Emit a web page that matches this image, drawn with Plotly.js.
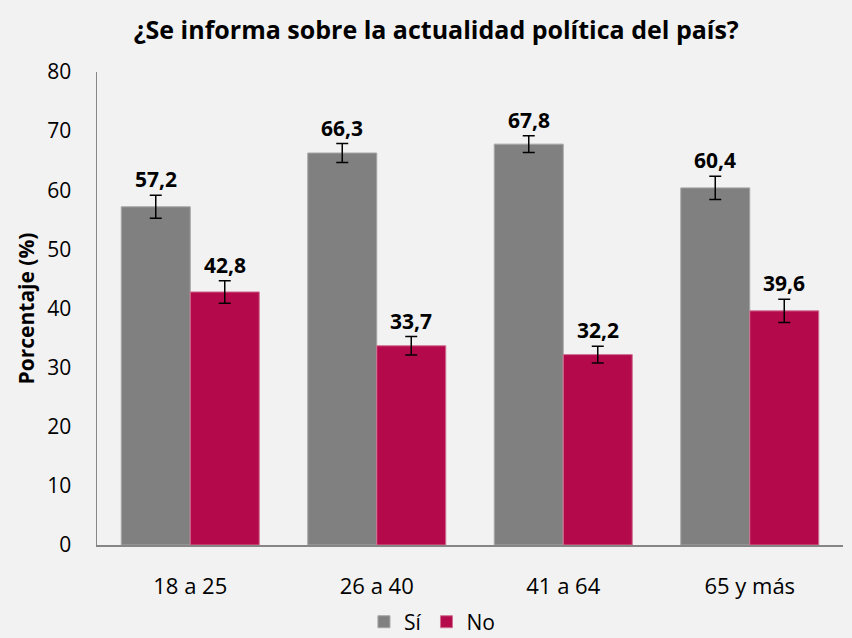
<!DOCTYPE html>
<html>
<head>
<meta charset="utf-8">
<script src="https://cdn.plot.ly/plotly-3.0.1.min.js"></script>
<style>html,body{margin:0;padding:0;background:#F2F2F2;}#chart{width:852px;height:638px;}</style>
</head>
<body>
<div id="chart"></div>
<script>
const categories = ["18 a 25", "26 a 40", "41 a 64", "65 y más"];
const siValues = [57.2, 66.3, 67.8, 60.4];
const noValues = [42.8, 33.7, 32.2, 39.6];
const siErrors = [1.95, 1.6, 1.4, 1.95];
const noErrors = [1.9, 1.55, 1.4, 1.95];
const yTicks = [0, 10, 20, 30, 40, 50, 60, 70, 80];

const fmt = v => v.toFixed(1).replace('.', ',');
const labelFont = {family: 'Open Sans', size: 21, color: '#000', weight: 'bold'};

const traces = [
  {type: 'bar', name: 'Sí', x: categories, y: siValues,
   marker: {color: '#808080', line: {color: '#A6A6A6', width: 1}},
   error_y: {type: 'data', array: siErrors, visible: true, color: '#000', thickness: 1.5, width: 6}},
  {type: 'bar', name: 'No', x: categories, y: noValues,
   marker: {color: '#B40A4C', line: {color: '#D07090', width: 1}},
   error_y: {type: 'data', array: noErrors, visible: true, color: '#000', thickness: 1.5, width: 6}}
];

const annotations = [];
categories.forEach((c, i) => {
  annotations.push({x: c, y: siValues[i] + siErrors[i], xref: 'x', yref: 'y', text: fmt(siValues[i]),
    showarrow: false, xshift: -34.5, yshift: 0, yanchor: 'bottom', font: labelFont});
  annotations.push({x: c, y: noValues[i] + noErrors[i], xref: 'x', yref: 'y', text: fmt(noValues[i]),
    showarrow: false, xshift: 34.5, yshift: 0, yanchor: 'bottom', font: labelFont});
});

const layout = {
  width: 852, height: 638,
  paper_bgcolor: '#F2F2F2', plot_bgcolor: '#F2F2F2',
  margin: {l: 97, r: 9, t: 72, b: 93, autoexpand: false},
  font: {family: 'Open Sans', color: '#000'},
  title: {text: '<b>¿Se informa sobre la actualidad política del país?</b>', x: 0.512, xanchor: 'center', y: 0.953, yanchor: 'middle',
          font: {family: 'Open Sans', size: 25, color: '#000'}},
  barmode: 'group', bargap: 0.26, bargroupgap: 0,
  xaxis: {type: 'category', showline: true, linecolor: '#868686', linewidth: 1.5, ticks: '', showgrid: false, automargin: false,
          tickfont: {size: 22, family: 'Open Sans'}, ticklabelstandoff: 21},
  yaxis: {range: [0, 80], tickvals: yTicks, showline: true, linecolor: '#868686', linewidth: 1.5, ticks: '', showgrid: false,
          automargin: false, zeroline: false, tickfont: {size: 21, family: 'Open Sans'}, ticklabelstandoff: 20,
          title: {text: '<b>Porcentaje (%)</b>', font: {size: 21, family: 'Open Sans'}, standoff: 7}},
  legend: {orientation: 'h', x: 0.449, xanchor: 'center', y: -0.163, yanchor: 'middle',
           font: {size: 21, family: 'Open Sans'}, bgcolor: 'rgba(0,0,0,0)', itemwidth: 30, tracegroupgap: 0, traceorder: 'normal'},
  annotations: annotations
};

Plotly.newPlot('chart', traces, layout, {displayModeBar: false, staticPlot: true});
</script>
</body>
</html>
